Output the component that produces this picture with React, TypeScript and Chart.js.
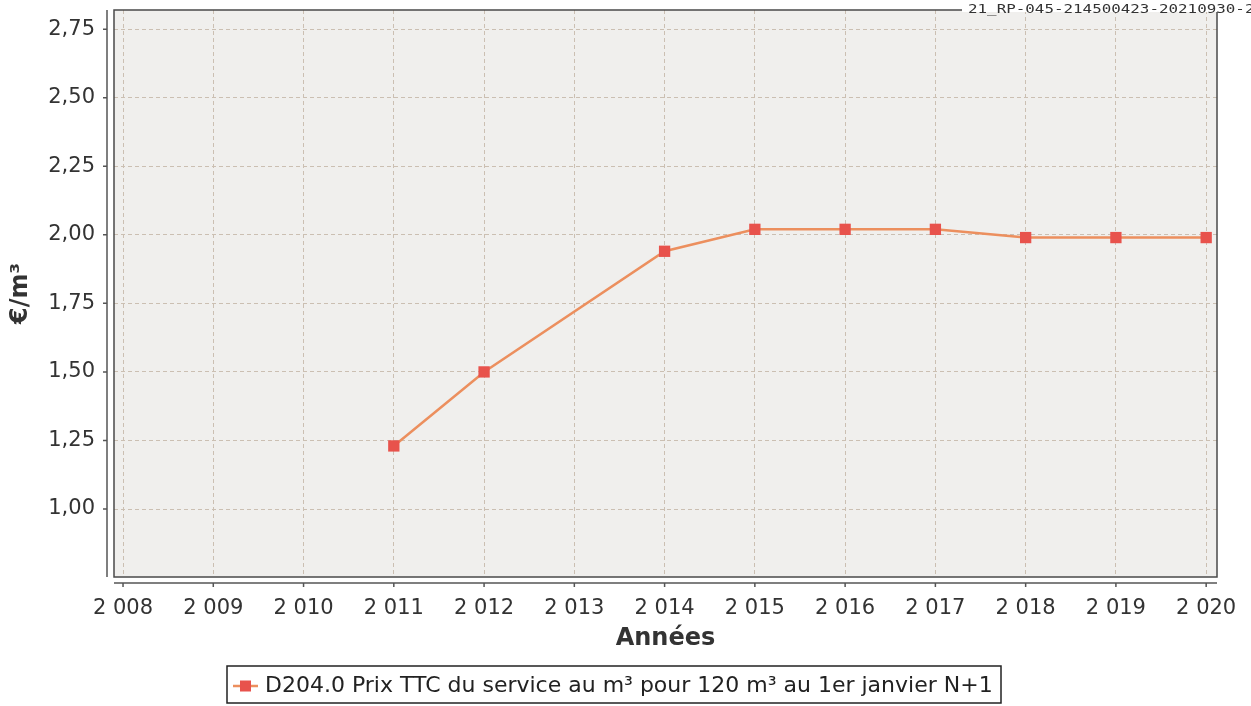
import React, { useEffect, useRef } from "react";
import { Chart, registerables } from "chart.js";

Chart.register(...registerables);

const years = [2011, 2012, 2014, 2015, 2016, 2017, 2018, 2019, 2020];
const prices = [1.23, 1.5, 1.94, 2.02, 2.02, 2.02, 1.99, 1.99, 1.99];
const seriesLabel = "D204.0 Prix TTC du service au m³ pour 120 m³ au 1er janvier N+1";
const xTitle = "Années";
const yTitle = "€/m³";
const stamp = "21_RP-045-214500423-20210930-2";

const LINE = "#ec8f5e";
const POINT = "#e8524c";
const FONT = "'DejaVu Sans', sans-serif";

const decorPlugin = {
  id: "decor",
  beforeDraw(chart: any) {
    const { ctx, chartArea: a } = chart;
    ctx.save();
    ctx.fillStyle = "#ffffff";
    ctx.fillRect(0, 0, chart.width, chart.height);
    ctx.fillStyle = "#f0efed";
    ctx.fillRect(a.left, a.top, a.right - a.left, a.bottom - a.top);
    ctx.restore();
  },
  afterDatasetsDraw(chart: any) {
    const { ctx, chartArea: a } = chart;
    const xs = chart.scales.x;
    const ys = chart.scales.y;
    ctx.save();
    ctx.strokeStyle = "#4a4a4a";
    ctx.lineWidth = 1.5;
    ctx.strokeRect(a.left, a.top, a.right - a.left, a.bottom - a.top);
    ctx.strokeStyle = "#555";
    ctx.lineWidth = 1.5;
    const yx = a.left - 7;
    ctx.beginPath();
    ctx.moveTo(yx, a.top);
    ctx.lineTo(yx, a.bottom);
    ys.ticks.forEach((t: any) => {
      const py = ys.getPixelForValue(t.value);
      ctx.moveTo(yx - 4, py);
      ctx.lineTo(yx, py);
    });
    ctx.stroke();
    const xy = a.bottom + 6;
    ctx.beginPath();
    ctx.moveTo(a.left, xy);
    ctx.lineTo(a.right, xy);
    xs.ticks.forEach((t: any) => {
      const px = xs.getPixelForValue(t.value);
      ctx.moveTo(px, xy);
      ctx.lineTo(px, xy + 4);
    });
    ctx.stroke();
    ctx.restore();
  },
  afterDraw(chart: any) {
    const { ctx } = chart;
    ctx.save();
    ctx.strokeStyle = "#222";
    ctx.lineWidth = 1.5;
    ctx.strokeRect(227, 666, 774, 37);
    const ly = 686;
    ctx.strokeStyle = LINE;
    ctx.lineWidth = 2.5;
    ctx.beginPath();
    ctx.moveTo(233, ly);
    ctx.lineTo(258, ly);
    ctx.stroke();
    ctx.fillStyle = POINT;
    ctx.fillRect(240, ly - 5.5, 11, 11);
    ctx.fillStyle = "#222";
    ctx.font = `22px ${FONT}`;
    ctx.textBaseline = "middle";
    ctx.textAlign = "left";
    ctx.fillText(seriesLabel, 265, ly);
    ctx.fillStyle = "#ffffff";
    ctx.fillRect(962, 0, 289, 12);
    ctx.fillStyle = "#333";
    ctx.font = `13px 'DejaVu Sans Mono', monospace`;
    ctx.textBaseline = "alphabetic";
    ctx.translate(968, 13);
    ctx.scale(1.22, 1);
    ctx.fillText(stamp, 0, 0);
    ctx.restore();
  },
};

export default function App() {
  const ref = useRef<HTMLCanvasElement | null>(null);

  useEffect(() => {
    document.body.style.margin = "0";
    const canvas = ref.current;
    if (!canvas) return;
    const chart = new Chart(canvas, {
      type: "line",
      data: {
        datasets: [
          {
            label: seriesLabel,
            data: years.map((y, i) => ({ x: y, y: prices[i] })),
            borderColor: LINE,
            borderWidth: 2.5,
            backgroundColor: POINT,
            pointStyle: "rect",
            pointRadius: 8,
            pointBorderWidth: 0,
            pointBackgroundColor: POINT,
            tension: 0,
          },
        ],
      },
      options: {
        responsive: false,
        animation: false,
        layout: { padding: { left: 0, top: 10, right: 34, bottom: 0 } },
        plugins: {
          legend: { display: false },
          tooltip: { enabled: false },
        },
        scales: {
          x: {
            type: "linear",
            min: 2007.9,
            max: 2020.12,
            afterFit: (s: any) => {
              s.height = 129;
              s.paddingLeft = 0;
              s.paddingRight = 0;
            },
            afterBuildTicks: (s: any) => {
              s.ticks = s.ticks.filter((t: any) => Number.isInteger(t.value));
            },
            ticks: {
              stepSize: 1,
              includeBounds: false,
              autoSkip: false,
              maxRotation: 0,
              padding: 19,
              color: "#333",
              font: { family: FONT, size: 21 },
              callback: (v: any) => {
                const s = String(v);
                return s.slice(0, 1) + " " + s.slice(1);
              },
            },
            grid: { color: "#cbbfb2", lineWidth: 1, drawTicks: false },
            border: { display: false, dash: [4, 3] },
            title: {
              display: true,
              text: xTitle,
              color: "#333",
              font: { family: FONT, size: 24, weight: "bold" },
              padding: { top: 0, bottom: 53 },
            },
          },
          y: {
            type: "linear",
            min: 0.752,
            max: 2.82,
            afterFit: (s: any) => {
              s.width = 114;
              s.paddingTop = 0;
              s.paddingBottom = 0;
            },
            afterBuildTicks: (s: any) => {
              s.ticks = s.ticks.filter((t: any) => t.value >= 0.999);
            },
            ticks: {
              stepSize: 0.25,
              includeBounds: false,
              padding: 19,
              color: "#333",
              font: { family: FONT, size: 21 },
              callback: (v: any) => Number(v).toFixed(2).replace(".", ","),
            },
            grid: { color: "#cbbfb2", lineWidth: 1, drawTicks: false },
            border: { display: false, dash: [4, 3] },
            title: {
              display: true,
              text: yTitle,
              color: "#333",
              font: { family: FONT, size: 24, weight: "bold" },
              padding: { top: 6, bottom: 0 },
            },
          },
        },
      },
      plugins: [decorPlugin],
    });
    return () => chart.destroy();
  }, []);

  return (
    <div style={{ position: "absolute", left: 0, top: 0, width: 1251, height: 706 }}>
      <canvas ref={ref} width={1251} height={706} style={{ width: 1251, height: 706, display: "block" }} />
    </div>
  );
}
